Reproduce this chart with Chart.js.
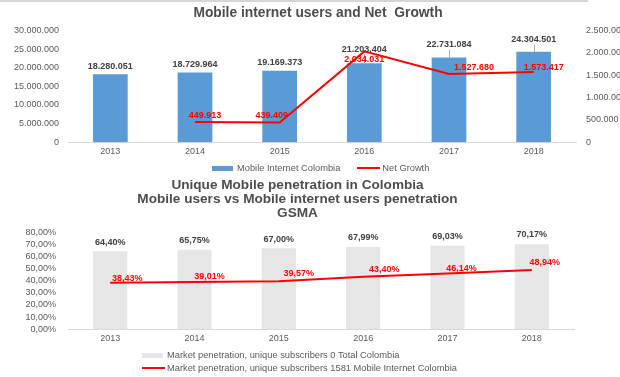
<!DOCTYPE html>
<html>
<head>
<meta charset="utf-8">
<script src="https://cdn.jsdelivr.net/npm/chart.js@4.4.1/dist/chart.umd.min.js"></script>
<style>
  html, body { margin: 0; padding: 0; background: #fff; }
  body { width: 620px; height: 377px; position: relative; overflow: hidden; font-family: "Liberation Sans", Arial, sans-serif; }
  #top-rule { position: absolute; left: 0; top: 0; width: 588px; height: 2px; background: #d6d6d6; }
  #users-wrap { position: absolute; left: 0; top: 0; width: 636px; height: 182px; }
  #penetration-wrap { position: absolute; left: 0; top: 170px; width: 620px; height: 207px; }
  .legend { position: absolute; font-size: 9.3px; color: #595959; }
  #users-legend { left: 212px; top: 162px; display: flex; }
  #users-legend .legend-row + .legend-row { margin-left: 17px; }
  #penetration-legend { left: 142px; top: 349px; }
  .legend-row { display: flex; align-items: center; height: 12.5px; white-space: nowrap; }
  .swatch-bar { width: 21px; height: 5px; margin-right: 4px; }
  .swatch-line { width: 23px; height: 2px; margin-right: 2px; }
</style>
</head>
<body>
<div id="top-rule"></div>
<div id="users-wrap"><canvas id="users-chart" width="636" height="182"></canvas></div>
<div id="penetration-wrap"><canvas id="penetration-chart" width="620" height="207"></canvas></div>
<div id="users-legend" class="legend"></div>
<div id="penetration-legend" class="legend"></div>

<script>
const years = ["2013", "2014", "2015", "2016", "2017", "2018"];

// Mobile internet users and their yearly net growth
const mobileUsers = [18280051, 18729964, 19169373, 21203404, 22731084, 24304501];
const netGrowth = [null, 449913, 439409, 2034031, 1527680, 1573417];
const usersTicks = [0, 5000000, 10000000, 15000000, 20000000, 25000000, 30000000];
const growthTicks = [0, 500000, 1000000, 1500000, 2000000, 2500000];

// Unique subscriber penetration (%)
const penetrationTotal = [64.40, 65.75, 67.00, 67.99, 69.03, 70.17];
const penetrationInternet = [38.43, 39.01, 39.57, 43.40, 46.14, 48.94];
const percentTicks = [0, 10, 20, 30, 40, 50, 60, 70, 80];

const usersTitle = "Mobile internet users and Net  Growth";
const penetrationTitle = [
  "Unique Mobile penetration in Colombia",
  "Mobile users vs Mobile internet users penetration",
  "GSMA",
];
const usersNames = ["Mobile Internet Colombia", "Net Growth"];
const penetrationNames = [
  "Market penetration, unique subscribers 0 Total Colombia",
  "Market penetration, unique subscribers 1581 Mobile Internet Colombia",
];

const FONT = "'Liberation Sans', Arial, sans-serif";
const TEXT = "#595959";
const BLUE = "#5b9bd5";
const RED = "#ff0000";
const GREY_BAR = "#e6e6e6";

Chart.defaults.font.family = FONT;
Chart.defaults.color = TEXT;
Chart.defaults.animation = false;

function thousands(v) {
  return String(v).replace(/\B(?=(\d{3})+(?!\d))/g, ".");
}

function percent(v) {
  return v.toFixed(2).replace(".", ",") + "%";
}

function fixedTicks(values) {
  return (scale) => {
    scale.ticks = values.map((value) => ({ value }));
  };
}

// text offsets for each value label, relative to its bar top / line point
const userLabelShift = [[0, -8], [0, -8], [0, -8], [0, -14], [0, -13], [0, -12]];
const userLeader = [false, false, false, true, true, true];
const growthLabelShift = [null, [10, -7], [-8, -7], [0, 8], [25, -6], [10, -4]];
const totalLabelShift = [[0, -9], [0, -9], [0, -9], [0, -9], [0, -9], [0, -10]];
const internetLabelShift = [[17, -4], [15, -5], [20, -8], [21, -7], [14, -5], [13, -7]];

const valueLabels = {
  id: "valueLabels",
  afterDatasetsDraw(chart) {
    const ctx = chart.ctx;
    chart.data.datasets.forEach((ds, i) => {
      const cfg = ds.valueLabel;
      if (!cfg) {
        return;
      }
      const meta = chart.getDatasetMeta(i);
      meta.data.forEach((el, j) => {
        const v = ds.data[j];
        if (v == null) {
          return;
        }
        const [dx, dy] = cfg.shift[j];
        const x = el.x + dx;
        const y = el.y + dy;
        ctx.save();
        if (cfg.leader && cfg.leader[j]) {
          ctx.strokeStyle = "#a6a6a6";
          ctx.lineWidth = 1;
          ctx.beginPath();
          ctx.moveTo(Math.round(el.x) + 0.5, y + 5);
          ctx.lineTo(Math.round(el.x) + 0.5, el.y);
          ctx.stroke();
        }
        ctx.font = "bold 9px " + FONT;
        ctx.fillStyle = cfg.color;
        ctx.textAlign = "center";
        ctx.textBaseline = "middle";
        ctx.fillText(cfg.format(v), x, y);
        ctx.restore();
      });
    });
  },
};

const tickFont = { size: 9 };
const flatGrid = { display: false, drawTicks: false };

const usersChart = new Chart(document.getElementById("users-chart"), {
  type: "bar",
  plugins: [valueLabels],
  data: {
    labels: years,
    datasets: [
      {
        label: usersNames[0],
        data: mobileUsers,
        backgroundColor: BLUE,
        categoryPercentage: 1,
        barPercentage: 0.41,
        yAxisID: "y",
        order: 2,
        valueLabel: { shift: userLabelShift, leader: userLeader, color: "#404040", format: thousands },
      },
      {
        type: "line",
        label: usersNames[1],
        data: netGrowth,
        borderColor: RED,
        backgroundColor: RED,
        borderWidth: 2,
        pointRadius: 0,
        tension: 0,
        yAxisID: "y1",
        order: 1,
        valueLabel: { shift: growthLabelShift, color: RED, format: thousands },
      },
    ],
  },
  options: {
    responsive: false,
    layout: { padding: { top: 0, bottom: 21, left: 0, right: 0 } },
    plugins: {
      tooltip: { enabled: false },
      legend: { display: false },
      title: {
        display: true,
        text: usersTitle,
        color: "#4d4d4d",
        font: { size: 13.8, weight: "bold" },
        padding: { top: 5, bottom: 9 },
      },
    },
    scales: {
      x: {
        grid: flatGrid,
        border: { display: true, color: "#d9d9d9" },
        ticks: { font: tickFont, padding: 4, maxRotation: 0 },
      },
      y: {
        position: "left",
        min: usersTicks[0],
        max: usersTicks[usersTicks.length - 1],
        afterBuildTicks: fixedTicks(usersTicks),
        afterFit: (s) => { s.width = 68; },
        grid: flatGrid,
        border: { display: false },
        ticks: { font: tickFont, padding: 9, autoSkip: false, callback: (v) => thousands(v) },
      },
      y1: {
        position: "right",
        min: growthTicks[0],
        max: growthTicks[growthTicks.length - 1],
        afterBuildTicks: fixedTicks(growthTicks),
        afterFit: (s) => { s.width = 60; },
        grid: flatGrid,
        border: { display: false },
        ticks: { font: tickFont, padding: 10, autoSkip: false, callback: (v) => thousands(v) },
      },
    },
  },
});

const penetrationChart = new Chart(document.getElementById("penetration-chart"), {
  type: "bar",
  plugins: [valueLabels],
  data: {
    labels: years,
    datasets: [
      {
        label: penetrationNames[0],
        data: penetrationTotal,
        backgroundColor: GREY_BAR,
        categoryPercentage: 1,
        barPercentage: 0.405,
        order: 2,
        valueLabel: { shift: totalLabelShift, color: "#404040", format: percent },
      },
      {
        type: "line",
        label: penetrationNames[1],
        data: penetrationInternet,
        borderColor: RED,
        backgroundColor: RED,
        borderWidth: 2,
        pointRadius: 0,
        tension: 0,
        order: 1,
        valueLabel: { shift: internetLabelShift, color: RED, format: percent },
      },
    ],
  },
  options: {
    responsive: false,
    layout: { padding: { left: 21, right: 46, top: 0, bottom: 29 } },
    plugins: {
      tooltip: { enabled: false },
      legend: { display: false },
      title: {
        display: true,
        text: penetrationTitle,
        color: "#4d4d4d",
        font: { size: 13.6, weight: "bold", lineHeight: 1.04 },
        padding: { top: 8, bottom: 12 },
      },
    },
    scales: {
      x: {
        grid: flatGrid,
        border: { display: true, color: "#d9d9d9" },
        ticks: { font: tickFont, padding: 4, maxRotation: 0 },
      },
      y: {
        min: percentTicks[0],
        max: percentTicks[percentTicks.length - 1],
        afterBuildTicks: fixedTicks(percentTicks),
        afterFit: (s) => { s.width = 47; },
        grid: flatGrid,
        border: { display: false },
        ticks: { font: tickFont, padding: 12, autoSkip: false, callback: (v) => percent(v) },
      },
    },
  },
});

// html legends built from the dataset names; bars get a flat box, lines a stroke
function buildLegend(boxId, chart) {
  const box = document.getElementById(boxId);
  chart.data.datasets.forEach((ds) => {
    const row = document.createElement("div");
    row.className = "legend-row";
    const swatch = document.createElement("span");
    const isLine = ds.type === "line";
    swatch.className = isLine ? "swatch-line" : "swatch-bar";
    swatch.style.background = isLine ? ds.borderColor : ds.backgroundColor;
    const text = document.createElement("span");
    text.textContent = ds.label;
    row.appendChild(swatch);
    row.appendChild(text);
    box.appendChild(row);
  });
}

buildLegend("users-legend", usersChart);
buildLegend("penetration-legend", penetrationChart);
</script>
</body>
</html>
